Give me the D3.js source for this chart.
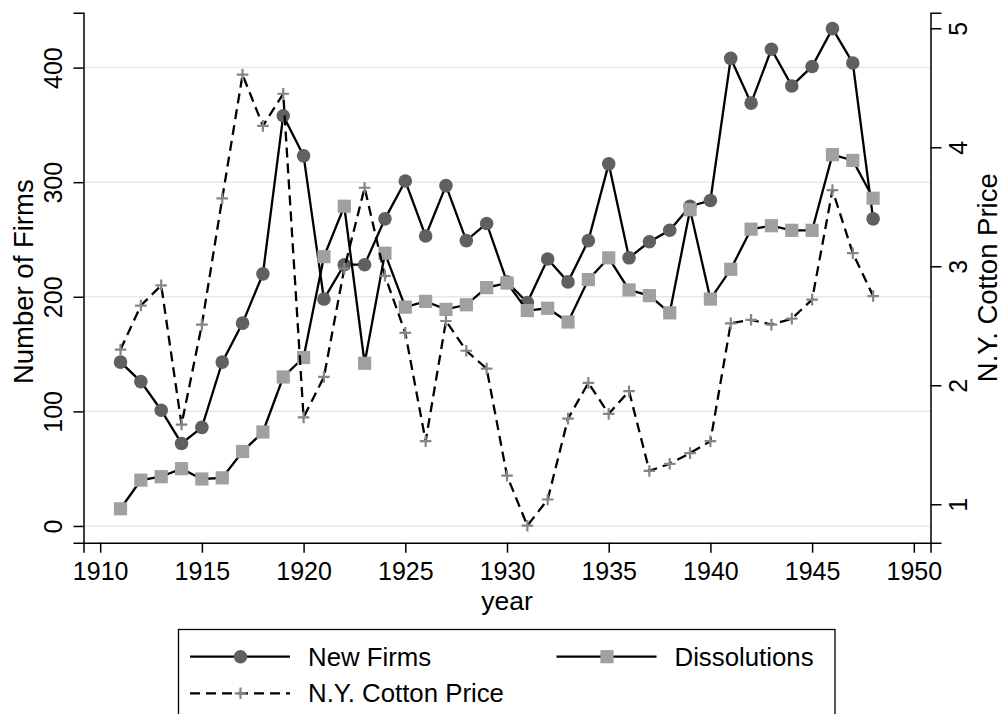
<!DOCTYPE html>
<html>
<head>
<meta charset="utf-8">
<script src="https://cdn.jsdelivr.net/npm/d3@7/dist/d3.min.js"></script>
<style>
  html, body { margin: 0; padding: 0; background: #fff; }
  svg { display: block; }
  text { font-family: "Liberation Sans", Arial, Helvetica, sans-serif; fill: #000; }
</style>
</head>
<body>
<svg id="chart" width="1002" height="714"></svg>
<script>
// Firm formation, dissolution and the New York cotton price, 1911–1948
const years = d3.range(1911, 1949);
const newFirms = [143, 126, 101, 72, 86, 143, 177, 220, 358, 323,
                  198, 228, 228, 268, 301, 253, 297, 249, 264, 213,
                  195, 233, 213, 249, 316, 234, 248, 258, 279, 284,
                  408, 369, 416, 384, 401, 434, 404, 268];
const dissolutions = [15, 40, 43, 50, 41, 42, 65, 82, 130, 147,
                      235, 279, 142, 238, 191, 196, 189, 193, 208, 212,
                      188, 190, 178, 215, 234, 206, 201, 186, 276, 198,
                      224, 259, 262, 258, 258, 324, 319, 286];
const cottonPrice = [2.30, 2.67, 2.84, 1.67, 2.51, 3.57, 4.61, 4.18, 4.45, 1.73,
                     2.07, 2.98, 3.66, 2.92, 2.44, 1.53, 2.54, 2.29, 2.14, 1.24,
                     0.82, 1.04, 1.72, 2.02, 1.76, 1.95, 1.28, 1.34, 1.43, 1.53,
                     2.52, 2.55, 2.51, 2.56, 2.72, 3.64, 3.11, 2.75];
const xTicks = [1910, 1915, 1920, 1925, 1930, 1935, 1940, 1945, 1950];
const leftTicks = [0, 100, 200, 300, 400];
const rightTicks = [1, 2, 3, 4, 5];

const svg = d3.select("#chart");
const plot = { left: 83.5, right: 930.5, top: 12.7, bottom: 542.7 };

const x = d3.scaleLinear().domain([1909.18, 1950.82]).range([plot.left, plot.right]);
const yL = d3.scaleLinear().domain([-14.6, 447.9]).range([plot.bottom, plot.top]);
const yR = d3.scaleLinear().domain([0.677, 5.131]).range([plot.bottom, plot.top]);

const FS = 25;        // tick labels
const FS_TITLE = 27.5; // axis titles
const FS_LEG = 25.8;  // legend labels
const circleFill = "#606060", squareFill = "#a0a0a0", plusStroke = "#858585";
const LW = 2.3;
const DASH = "10,6";

// horizontal grid lines at left-axis ticks
svg.append("g").selectAll("line").data(leftTicks).join("line")
  .attr("x1", plot.left).attr("x2", plot.right)
  .attr("y1", d => yL(d)).attr("y2", d => yL(d))
  .attr("stroke", "#e8e8e8").attr("stroke-width", 1.5);

// axes
function styleAxis(g) {
  g.select(".domain").attr("stroke", "#000").attr("stroke-width", 1.5);
  g.selectAll(".tick line").attr("stroke", "#000").attr("stroke-width", 1.5);
  g.selectAll(".tick text").attr("font-size", FS)
    .attr("font-family", "Liberation Sans, Arial, Helvetica, sans-serif").attr("fill", "#000");
}

const gx = svg.append("g").attr("transform", `translate(0,${plot.bottom})`)
  .call(d3.axisBottom(x).tickValues(xTicks).tickFormat(d3.format("d")).tickSizeOuter(0).tickSize(10).tickPadding(0));
styleAxis(gx);
gx.selectAll(".tick text").attr("y", 37.5).attr("dy", 0);

const gl = svg.append("g").attr("transform", `translate(${plot.left},0)`)
  .call(d3.axisLeft(yL).tickValues(leftTicks).tickFormat(d3.format("d")).tickSizeOuter(0).tickSize(10));
styleAxis(gl);
gl.selectAll(".tick text").attr("transform", "rotate(-90)")
  .attr("x", 0).attr("y", -21.5).attr("dy", 0).attr("text-anchor", "middle");

const gr = svg.append("g").attr("transform", `translate(${plot.right},0)`)
  .call(d3.axisRight(yR).tickValues(rightTicks).tickFormat(d3.format("d")).tickSizeOuter(0).tickSize(11));
styleAxis(gr);
gr.selectAll(".tick text").attr("transform", "rotate(-90)")
  .attr("x", 0).attr("y", 36).attr("dy", 0).attr("text-anchor", "middle");

// axis titles
const midY = (plot.top + plot.bottom) / 2;
svg.append("text").attr("transform", `translate(33,${midY + 4}) rotate(-90)`)
  .attr("text-anchor", "middle").attr("font-size", FS_TITLE).text("Number of Firms");
svg.append("text").attr("transform", `translate(997,${midY}) rotate(-90)`)
  .attr("text-anchor", "middle").attr("font-size", FS_TITLE).text("N.Y. Cotton Price");
svg.append("text").attr("x", (plot.left + plot.right) / 2).attr("y", 610)
  .attr("text-anchor", "middle").attr("font-size", 26.5).text("year");

// series
const lineL = d3.line().x((d, i) => x(years[i])).y(d => yL(d));
const lineR = d3.line().x((d, i) => x(years[i])).y(d => yR(d));

function circleMark(g, cx, cy) {
  g.append("circle").attr("cx", cx).attr("cy", cy).attr("r", 6.8).attr("fill", circleFill);
}
function squareMark(g, cx, cy) {
  g.append("rect").attr("x", cx - 6.6).attr("y", cy - 6.6).attr("width", 13.2).attr("height", 13.2)
    .attr("fill", squareFill);
}
function plusMark(g, cx, cy) {
  g.append("path").attr("d", `M${cx - 5.8},${cy}H${cx + 5.8}M${cx},${cy - 5.8}V${cy + 5.8}`)
    .attr("stroke", plusStroke).attr("stroke-width", 2.2).attr("fill", "none");
}

const gNew = svg.append("g");
gNew.append("path").datum(newFirms).attr("d", lineL)
  .attr("fill", "none").attr("stroke", "#000").attr("stroke-width", LW);
newFirms.forEach((v, i) => circleMark(gNew, x(years[i]), yL(v)));

const gDis = svg.append("g");
gDis.append("path").datum(dissolutions).attr("d", lineL)
  .attr("fill", "none").attr("stroke", "#000").attr("stroke-width", LW);
dissolutions.forEach((v, i) => squareMark(gDis, x(years[i]), yL(v)));

const gCot = svg.append("g");
gCot.append("path").datum(cottonPrice).attr("d", lineR)
  .attr("fill", "none").attr("stroke", "#000").attr("stroke-width", LW)
  .attr("stroke-dasharray", DASH);
cottonPrice.forEach((v, i) => plusMark(gCot, x(years[i]), yR(v)));

// legend
const leg = svg.append("g");
leg.append("rect").attr("x", 178.5).attr("y", 629.5).attr("width", 656.5).attr("height", 100)
  .attr("fill", "#fff").attr("stroke", "#000").attr("stroke-width", 1.3);

const legendItems = [
  { label: "New Firms", x0: 190, row: 656.7, dash: null, mark: circleMark },
  { label: "Dissolutions", x0: 556.5, row: 656.7, dash: null, mark: squareMark },
  { label: "N.Y. Cotton Price", x0: 190, row: 693.3, dash: DASH, mark: plusMark }
];
legendItems.forEach(it => {
  const ln = leg.append("line").attr("x1", it.x0).attr("x2", it.x0 + 100)
    .attr("y1", it.row).attr("y2", it.row).attr("stroke", "#000").attr("stroke-width", LW);
  if (it.dash) ln.attr("stroke-dasharray", it.dash);
  it.mark(leg, it.x0 + 50.5, it.row);
  leg.append("text").attr("x", it.x0 + 118).attr("y", it.row + 9)
    .attr("font-size", FS_LEG).text(it.label);
});
</script>
</body>
</html>
